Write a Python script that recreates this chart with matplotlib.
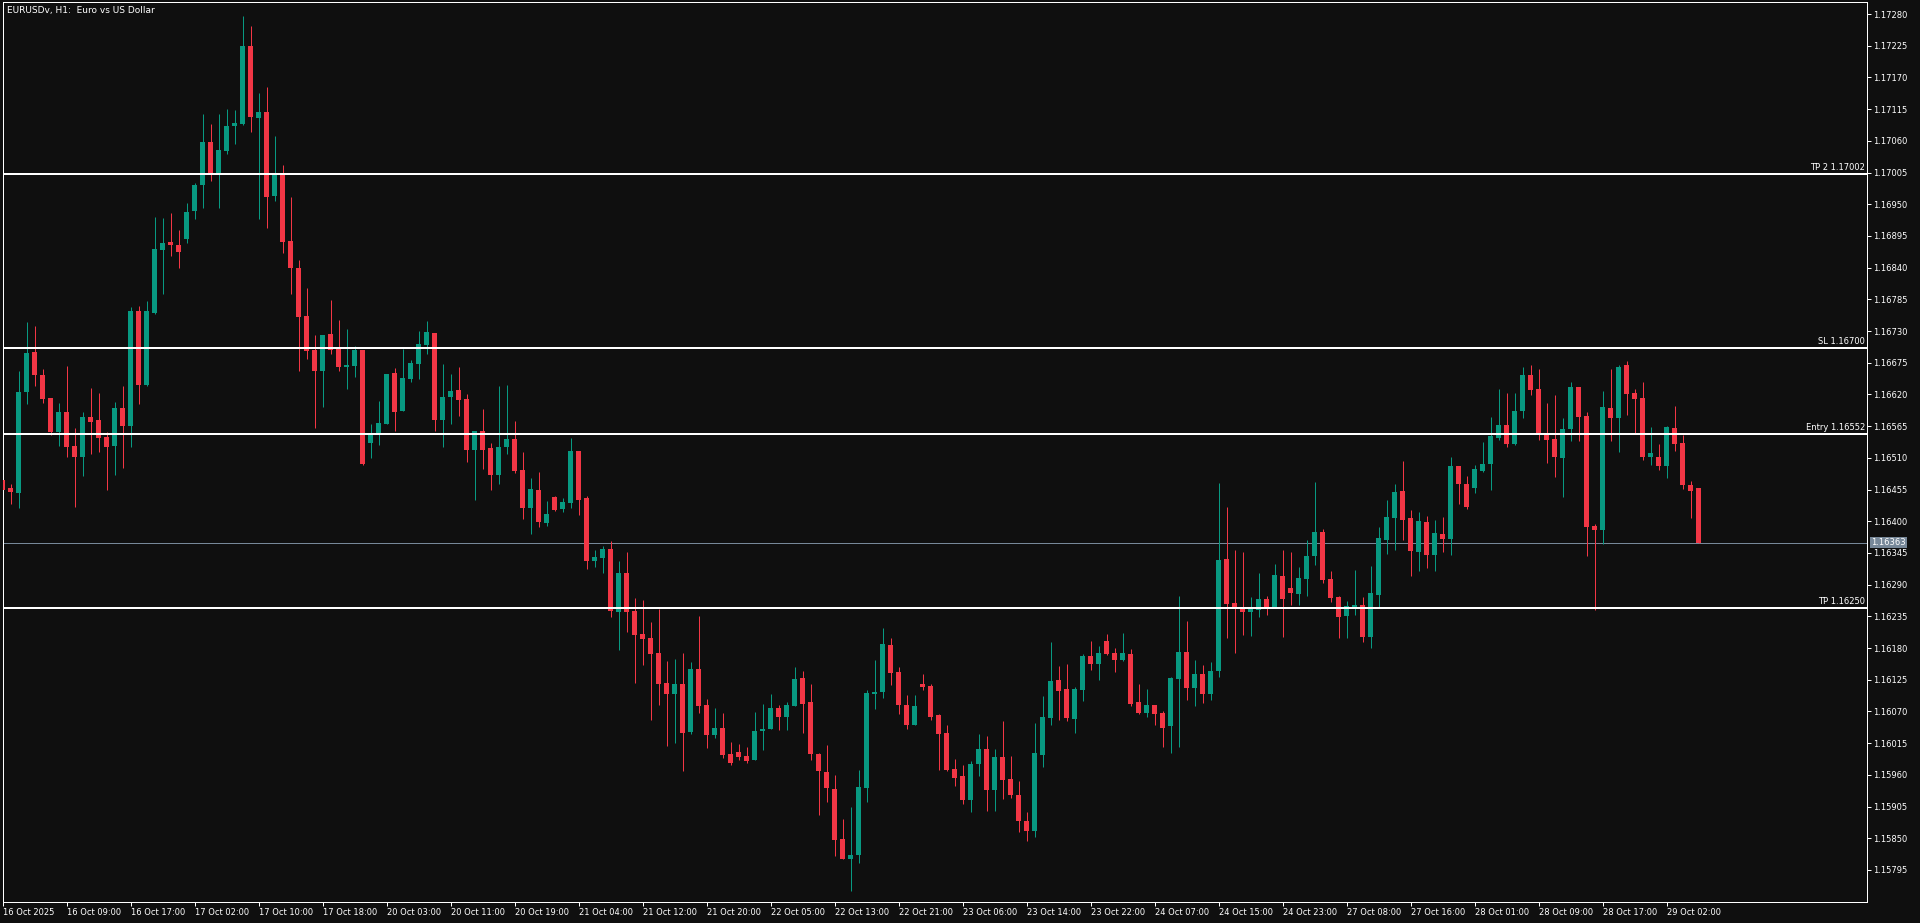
import matplotlib
matplotlib.use("Agg")
import matplotlib.pyplot as plt
import numpy as np

W, H = 1920, 923
PX = 72 / 100  # one pixel in points at dpi 100

BG = "#0f0f0f"
BULL = "#089981"
BEAR = "#f23645"
FG = "#ffffff"
BID_COL = "#778899"

# EURUSDv H1, one entry per bar (left -> right)
opens = [
    1.16472, 1.16457, 1.16449, 1.16624, 1.16694, 1.16653, 1.16614, 1.16554, 1.16590, 1.16531,
    1.16511, 1.16581, 1.16576, 1.16547, 1.16530, 1.16597, 1.16566, 1.16764, 1.16636, 1.16762,
    1.16871, 1.16885, 1.16879, 1.16889, 1.16938, 1.16983, 1.17058, 1.17004, 1.17043, 1.17085,
    1.17090, 1.17225, 1.17100, 1.17110, 1.16965, 1.17003, 1.16887, 1.16840, 1.16757, 1.16698,
    1.16660, 1.16725, 1.16700, 1.16668, 1.16670, 1.16697, 1.16535, 1.16551, 1.16569, 1.16657,
    1.16592, 1.16647, 1.16672, 1.16705, 1.16727, 1.16575, 1.16615, 1.16628, 1.16612, 1.16524,
    1.16557, 1.16527, 1.16481, 1.16529, 1.16543, 1.16489, 1.16423, 1.16454, 1.16397, 1.16442,
    1.16421, 1.16432, 1.16522, 1.16440, 1.16331, 1.16336, 1.16352, 1.16243, 1.16310, 1.16244,
    1.16204, 1.16197, 1.16171, 1.16119, 1.16100, 1.16118, 1.16034, 1.16144, 1.16081, 1.16029,
    1.16041, 1.15996, 1.16000, 1.15993, 1.15986, 1.16036, 1.16040, 1.16076, 1.16060, 1.16079,
    1.16128, 1.16086, 1.15996, 1.15965, 1.15935, 1.15849, 1.15814, 1.15821, 1.15937, 1.16100,
    1.16104, 1.16185, 1.16138, 1.16081, 1.16046, 1.16118, 1.16114, 1.16064, 1.16033, 1.15970,
    1.15958, 1.15916, 1.15979, 1.16005, 1.15934, 1.15991, 1.15953, 1.15925, 1.15880, 1.15862,
    1.15994, 1.16059, 1.16125, 1.16109, 1.16057, 1.16107, 1.16166, 1.16152, 1.16192, 1.16171,
    1.16159, 1.16170, 1.16086, 1.16067, 1.16081, 1.16067, 1.16045, 1.16126, 1.16173, 1.16110,
    1.16135, 1.16100, 1.16140, 1.16335, 1.16258, 1.16251, 1.16243, 1.16246, 1.16265, 1.16251,
    1.16305, 1.16284, 1.16274, 1.16300, 1.16340, 1.16381, 1.16300, 1.16269, 1.16236, 1.16251,
    1.16255, 1.16200, 1.16272, 1.16367, 1.16406, 1.16452, 1.16406, 1.16347, 1.16399, 1.16341,
    1.16378, 1.16369, 1.16496, 1.16465, 1.16458, 1.16487, 1.16499, 1.16544, 1.16567, 1.16534,
    1.16591, 1.16654, 1.16629, 1.16551, 1.16543, 1.16510, 1.16560, 1.16633, 1.16583, 1.16392,
    1.16385, 1.16597, 1.16579, 1.16671, 1.16623, 1.16614, 1.16511, 1.16511, 1.16496, 1.16562,
    1.16536, 1.16463, 1.16458,
]
highs = [
    1.16478, 1.16464, 1.16661, 1.16746, 1.16739, 1.16665, 1.16614, 1.16605, 1.16670, 1.16561,
    1.16590, 1.16632, 1.16623, 1.16555, 1.16607, 1.16635, 1.16772, 1.16774, 1.16783, 1.16928,
    1.16927, 1.16935, 1.16906, 1.16953, 1.16987, 1.17107, 1.17090, 1.17107, 1.17116, 1.17114,
    1.17277, 1.17259, 1.17143, 1.17154, 1.17069, 1.17018, 1.16963, 1.16854, 1.16805, 1.16724,
    1.16724, 1.16784, 1.16750, 1.16734, 1.16704, 1.16697, 1.16569, 1.16609, 1.16656, 1.16666,
    1.16699, 1.16680, 1.16730, 1.16748, 1.16727, 1.16673, 1.16656, 1.16668, 1.16621, 1.16557,
    1.16595, 1.16536, 1.16635, 1.16636, 1.16574, 1.16520, 1.16475, 1.16486, 1.16435, 1.16444,
    1.16440, 1.16544, 1.16522, 1.16444, 1.16350, 1.16357, 1.16366, 1.16331, 1.16347, 1.16267,
    1.16263, 1.16225, 1.16248, 1.16158, 1.16161, 1.16171, 1.16156, 1.16236, 1.16092, 1.16076,
    1.16067, 1.16017, 1.16013, 1.16008, 1.16069, 1.16083, 1.16100, 1.16081, 1.16086, 1.16147,
    1.16140, 1.16118, 1.15998, 1.16012, 1.15960, 1.15883, 1.15904, 1.15968, 1.16107, 1.16159,
    1.16215, 1.16197, 1.16147, 1.16098, 1.16098, 1.16135, 1.16118, 1.16066, 1.16046, 1.15987,
    1.15977, 1.15984, 1.16031, 1.16027, 1.16005, 1.16053, 1.15993, 1.15950, 1.15895, 1.16050,
    1.16097, 1.16190, 1.16149, 1.16152, 1.16112, 1.16170, 1.16192, 1.16184, 1.16204, 1.16180,
    1.16206, 1.16178, 1.16118, 1.16109, 1.16081, 1.16071, 1.16130, 1.16270, 1.16227, 1.16160,
    1.16150, 1.16155, 1.16466, 1.16425, 1.16350, 1.16347, 1.16269, 1.16310, 1.16270, 1.16326,
    1.16350, 1.16347, 1.16321, 1.16368, 1.16468, 1.16387, 1.16314, 1.16270, 1.16262, 1.16315,
    1.16269, 1.16322, 1.16390, 1.16437, 1.16465, 1.16505, 1.16420, 1.16416, 1.16409, 1.16402,
    1.16407, 1.16511, 1.16496, 1.16479, 1.16498, 1.16538, 1.16581, 1.16629, 1.16623, 1.16623,
    1.16668, 1.16671, 1.16664, 1.16605, 1.16619, 1.16579, 1.16642, 1.16633, 1.16590, 1.16395,
    1.16626, 1.16664, 1.16671, 1.16678, 1.16629, 1.16642, 1.16564, 1.16534, 1.16565, 1.16600,
    1.16550, 1.16470, 1.16458,
]
lows = [
    1.16448, 1.16430, 1.16423, 1.16603, 1.16634, 1.16606, 1.16549, 1.16530, 1.16511, 1.16425,
    1.16478, 1.16516, 1.16521, 1.16454, 1.16481, 1.16492, 1.16528, 1.16603, 1.16634, 1.16759,
    1.16795, 1.16861, 1.16839, 1.16882, 1.16924, 1.16944, 1.16991, 1.16944, 1.17038, 1.17054,
    1.17088, 1.17076, 1.16925, 1.16908, 1.16955, 1.16865, 1.16794, 1.16660, 1.16681, 1.16562,
    1.16599, 1.16690, 1.16660, 1.16630, 1.16651, 1.16497, 1.16509, 1.16532, 1.16569, 1.16557,
    1.16592, 1.16641, 1.16646, 1.16691, 1.16557, 1.16528, 1.16569, 1.16582, 1.16503, 1.16436,
    1.16491, 1.16455, 1.16465, 1.16516, 1.16484, 1.16404, 1.16378, 1.16390, 1.16392, 1.16418,
    1.16416, 1.16423, 1.16411, 1.16317, 1.16321, 1.16310, 1.16234, 1.16177, 1.16208, 1.16119,
    1.16151, 1.16055, 1.16081, 1.16010, 1.16015, 1.15967, 1.16031, 1.16067, 1.16007, 1.16024,
    1.15989, 1.15977, 1.15986, 1.15981, 1.15986, 1.16003, 1.16040, 1.16038, 1.16038, 1.16079,
    1.16033, 1.15986, 1.15890, 1.15913, 1.15819, 1.15814, 1.15758, 1.15807, 1.15913, 1.16074,
    1.16093, 1.16116, 1.16066, 1.16040, 1.16046, 1.16107, 1.16055, 1.15968, 1.15967, 1.15941,
    1.15909, 1.15895, 1.15958, 1.15897, 1.15897, 1.15918, 1.15920, 1.15860, 1.15845, 1.15852,
    1.15974, 1.16046, 1.16055, 1.16053, 1.16033, 1.16088, 1.16142, 1.16125, 1.16168, 1.16138,
    1.16158, 1.16079, 1.16066, 1.16060, 1.16046, 1.16008, 1.15998, 1.16008, 1.16090, 1.16080,
    1.16085, 1.16090, 1.16130, 1.16197, 1.16171, 1.16203, 1.16201, 1.16234, 1.16237, 1.16251,
    1.16199, 1.16255, 1.16255, 1.16270, 1.16324, 1.16293, 1.16260, 1.16197, 1.16197, 1.16237,
    1.16190, 1.16180, 1.16251, 1.16343, 1.16350, 1.16367, 1.16305, 1.16314, 1.16319, 1.16314,
    1.16347, 1.16341, 1.16430, 1.16421, 1.16449, 1.16485, 1.16454, 1.16541, 1.16529, 1.16532,
    1.16579, 1.16619, 1.16541, 1.16501, 1.16477, 1.16442, 1.16539, 1.16539, 1.16340, 1.16246,
    1.16361, 1.16539, 1.16520, 1.16584, 1.16551, 1.16506, 1.16498, 1.16489, 1.16475, 1.16522,
    1.16456, 1.16406, 1.16363,
]
closes = [
    1.16454, 1.16450, 1.16625, 1.16692, 1.16653, 1.16612, 1.16554, 1.16590, 1.16528, 1.16511,
    1.16581, 1.16573, 1.16544, 1.16528, 1.16597, 1.16566, 1.16764, 1.16636, 1.16764, 1.16873,
    1.16883, 1.16879, 1.16868, 1.16937, 1.16984, 1.17058, 1.17000, 1.17044, 1.17086, 1.17091,
    1.17225, 1.17102, 1.17110, 1.16963, 1.17003, 1.16885, 1.16839, 1.16755, 1.16696, 1.16660,
    1.16724, 1.16698, 1.16667, 1.16671, 1.16697, 1.16500, 1.16551, 1.16571, 1.16656, 1.16590,
    1.16649, 1.16675, 1.16708, 1.16728, 1.16575, 1.16616, 1.16626, 1.16611, 1.16524, 1.16557,
    1.16524, 1.16481, 1.16529, 1.16543, 1.16487, 1.16423, 1.16456, 1.16399, 1.16413, 1.16420,
    1.16433, 1.16522, 1.16437, 1.16331, 1.16338, 1.16352, 1.16244, 1.16310, 1.16243, 1.16203,
    1.16196, 1.16170, 1.16118, 1.16100, 1.16118, 1.16033, 1.16144, 1.16079, 1.16029, 1.16041,
    1.15994, 1.15981, 1.15991, 1.15984, 1.16036, 1.16040, 1.16076, 1.16060, 1.16081, 1.16126,
    1.16083, 1.15996, 1.15967, 1.15937, 1.15847, 1.15814, 1.15821, 1.15939, 1.16102, 1.16104,
    1.16187, 1.16137, 1.16081, 1.16046, 1.16079, 1.16112, 1.16060, 1.16031, 1.15968, 1.15954,
    1.15916, 1.15979, 1.16005, 1.15934, 1.15991, 1.15951, 1.15925, 1.15880, 1.15862, 1.15998,
    1.16060, 1.16123, 1.16105, 1.16059, 1.16109, 1.16166, 1.16152, 1.16171, 1.16170, 1.16159,
    1.16171, 1.16083, 1.16067, 1.16081, 1.16066, 1.16041, 1.16128, 1.16173, 1.16110, 1.16135,
    1.16100, 1.16140, 1.16333, 1.16256, 1.16251, 1.16243, 1.16251, 1.16265, 1.16251, 1.16307,
    1.16265, 1.16276, 1.16302, 1.16340, 1.16381, 1.16298, 1.16267, 1.16234, 1.16253, 1.16255,
    1.16200, 1.16275, 1.16371, 1.16407, 1.16451, 1.16402, 1.16348, 1.16400, 1.16341, 1.16380,
    1.16369, 1.16496, 1.16465, 1.16425, 1.16491, 1.16499, 1.16548, 1.16567, 1.16534, 1.16591,
    1.16654, 1.16628, 1.16551, 1.16541, 1.16511, 1.16560, 1.16633, 1.16581, 1.16390, 1.16385,
    1.16598, 1.16579, 1.16668, 1.16621, 1.16612, 1.16511, 1.16518, 1.16496, 1.16564, 1.16534,
    1.16463, 1.16452, 1.16363,
]

time_labels = [
    "16 Oct 2025", "16 Oct 09:00", "16 Oct 17:00", "17 Oct 02:00", "17 Oct 10:00",
    "17 Oct 18:00", "20 Oct 03:00", "20 Oct 11:00", "20 Oct 19:00", "21 Oct 04:00",
    "21 Oct 12:00", "21 Oct 20:00", "22 Oct 05:00", "22 Oct 13:00", "22 Oct 21:00",
    "23 Oct 06:00", "23 Oct 14:00", "23 Oct 22:00", "24 Oct 07:00", "24 Oct 15:00",
    "24 Oct 23:00", "27 Oct 08:00", "27 Oct 16:00", "28 Oct 01:00", "28 Oct 09:00",
    "28 Oct 17:00", "29 Oct 02:00",
]
bars_per_label = 8

price_ticks = [
    1.15795, 1.15850, 1.15905, 1.15960, 1.16015, 1.16070, 1.16125, 1.16180, 1.16235,
    1.16290, 1.16345, 1.16400, 1.16455, 1.16510, 1.16565, 1.16620, 1.16675, 1.16730,
    1.16785, 1.16840, 1.16895, 1.16950, 1.17005, 1.17060, 1.17115, 1.17170, 1.17225,
    1.17280,
]

level_names = ["TP 2", "SL", "Entry", "TP"]
level_prices = [1.17002, 1.16700, 1.16552, 1.16250]
bid_price = 1.16363

title = "EURUSDv, H1:  Euro vs US Dollar"

# ---- figure: plot box spans pixels x 2.5..1867, y 2..902 ----
fig = plt.figure(figsize=(W / 100, H / 100), dpi=100, facecolor=BG)
ax = fig.add_axes([2.5 / W, 21 / H, 1864.5 / W, 900 / H], facecolor=BG)

o = np.array(opens)
h = np.array(highs)
l = np.array(lows)
c = np.array(closes)
x = np.arange(len(o))
col = np.where(c >= o, BULL, BEAR)

ax.axhline(bid_price, color=BID_COL, lw=PX, zorder=1)
ax.vlines(x, l, h, colors=col, lw=PX, zorder=2)
body = np.maximum(np.abs(c - o), 0.000016)
ax.bar(x, body, bottom=np.minimum(o, c), width=0.625, color=col, lw=0, zorder=3)

for name, p in zip(level_names, level_prices):
    ax.axhline(p, color=FG, lw=2 * PX, zorder=4)
    ax.annotate(f"{name} {p:.5f}", xy=(1, p), xycoords=("axes fraction", "data"),
                xytext=(-2 * PX, 2 * PX), textcoords="offset points",
                ha="right", va="bottom", fontsize=6, color=FG, zorder=5)

ax.set_xlim(-0.025, 233.04)
ax.set_ylim(1.157393, 1.173010)

ax.yaxis.tick_right()
ax.set_yticks(price_ticks)
ax.set_yticklabels([f"{p:.5f}" for p in price_ticks])
ax.tick_params(axis="y", colors=FG, labelsize=6, length=4 * PX, width=PX, pad=2 * PX)

ax.set_xticks(np.arange(len(time_labels)) * bars_per_label)
ax.set_xticklabels(time_labels, ha="left")
ax.tick_params(axis="x", colors=FG, labelsize=6, length=4 * PX, width=PX, pad=2 * PX)

for s in ax.spines.values():
    s.set_color(FG)
    s.set_linewidth(PX)

# current bid label on the price scale
ax.annotate(f"{bid_price:.5f}", xy=(1, bid_price), xycoords=("axes fraction", "data"),
            xytext=(4 * PX, 0), textcoords="offset points", ha="left", va="center",
            fontsize=6, color=FG, zorder=6, annotation_clip=False,
            bbox=dict(boxstyle="square,pad=0.15", fc=BID_COL, ec="none"))

fig.text(7 / W, 1 - 10 / H, title, fontsize=6.5, color=FG, va="center", ha="left")

fig.savefig("out.png", dpi=100, facecolor=BG)
